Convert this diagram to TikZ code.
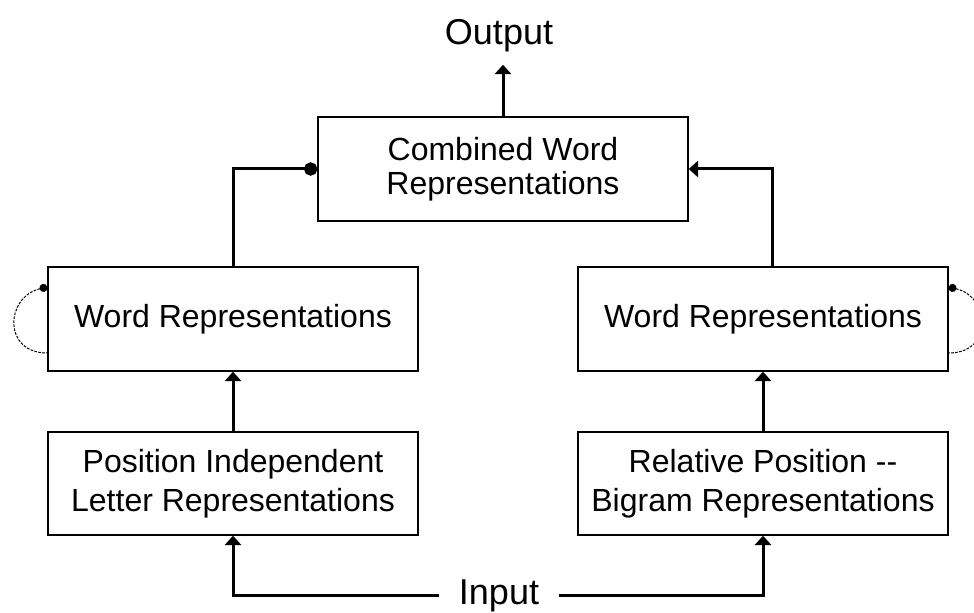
\documentclass[tikz,border=0pt]{standalone}
\usepackage{fontspec}
\setmainfont{Liberation Sans}
\usepackage{tikz}
\usetikzlibrary{arrows.meta}

\begin{document}
\begin{tikzpicture}[>={Triangle[width=12pt,length=7pt]}, x=0.75pt, y=-0.75pt,
                caja/.style={draw, line width=1pt, minimum width=277.5pt, minimum height=78pt, align=center, font=\fontsize{24}{25.5}\selectfont},
                flecha/.style={->, line width=2.25pt},
                lazo/.style={arrows={Circle[length=6pt]-}, line width=0.75pt, dash pattern=on 2pt off 1pt}]
                \useasboundingbox (0,0) rectangle (974,613);
                % Cajas
                \node[caja] (comb) at (503,169) {Combined Word\\Representations};
                \node[caja] (wl) at (233,319) {Word Representations};
                \node[caja] (wr) at (763,319) {Word Representations};
                \node[caja, minimum height=77.25pt, font=\fontsize{24}{29}\selectfont] (pl) at (233,483.5) {Position Independent\\Letter Representations};
                \node[caja, minimum height=77.25pt, font=\fontsize{24}{29}\selectfont] (pr) at (763,483.5) {Relative Position -{}-\\Bigram Representations};
                % Salida y entrada
                \node[anchor=base, inner sep=9pt, font=\fontsize{27}{30}\selectfont] (out) at (499,45) {Output};
                \node[anchor=base, inner sep=15pt, font=\fontsize{27}{30}\selectfont] (in) at (499,604) {Input};
                % Flechas
                \draw[flecha] (in.west) -| (pl.south);
                \draw[flecha] (in.east) -| (pr.south);
                \draw[flecha] (pl) -- (wl);
                \draw[flecha] (pr) -- (wr);
                \draw[line width=2.25pt, -{Circle[length=10pt]}] (wl.north) |- (comb.west);
                \draw[flecha] ([xshift=6.75pt]wr.north) |- (comb.east);
                \draw[flecha] (comb.north) -- (comb.north |- out.south);
                % Lazos
                \path (wl.west) ++(0,-32) coordinate (wlt) (wl.west) ++(0,34) coordinate (wlb);
                \draw[lazo] (wlt) .. controls +(-42,10) and +(-45,0) .. (wlb);
                \path (wr.east) ++(0,-32) coordinate (wrt) (wr.east) ++(0,34) coordinate (wrb);
                \draw[lazo] (wrt) .. controls +(42,10) and +(45,0) .. (wrb);
\end{tikzpicture}
\end{document}
